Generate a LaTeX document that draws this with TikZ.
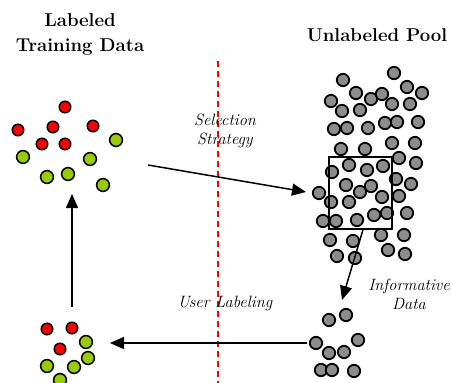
\documentclass[tikz,border=0pt]{standalone}
\usepackage{xcolor}
\usetikzlibrary{arrows.meta}
\definecolor{rouge}{RGB}{255,0,0}
\definecolor{vert}{RGB}{153,204,0}
\definecolor{gris}{RGB}{140,140,140}
\tikzset{
  pt/.style={circle,draw,line width=1.5pt,minimum size=11.5pt,inner sep=0pt},
  ptrouge/.style={pt,fill=rouge,minimum size=11.5pt},
  ptvert/.style={pt,fill=vert,minimum width=12.2pt,minimum height=12.8pt},
  ptgris/.style={pt,fill=gris,line width=1.8pt,minimum size=12.4pt},
  fleche/.style={line width=1.5pt,-{Triangle[length=14pt,width=12pt]}},
  titre/.style={align=center,font=\fontsize{18.6}{25}\selectfont\bfseries},
  etiq/.style={align=center,font=\fontsize{16.4}{19}\selectfont\itshape}
}
\begin{document}
\begin{tikzpicture}[x=1pt,y=-1pt]
\useasboundingbox (0,0) rectangle (451,383);
% titres
\node[titre] (tl) at (80,34) {Labeled\\Training Data};
\node[titre] (tu) at (377,35) {Unlabeled Pool};
% ligne de séparation
\coordinate (d1) at (218,61);
\coordinate (d2) at (218,383);
\draw[rouge,dashed,line width=1.3pt,dash pattern=on 6pt off 4pt] (d1) -- (d2);
% données étiquetées (haut)
\foreach \x/\y [count=\i] in {65/107,18/130,53/127,93/126,42/144,65/144}
  \node[ptrouge] (r\i) at (\x,\y) {};
\foreach \x/\y [count=\i] in {116/140,23/157,90/159,47/177,68/174,103/185}
  \node[ptvert] (v\i) at (\x,\y) {};
% données étiquetées (bas)
\foreach \x/\y [count=\i] in {47/329,72/328,60/349}
  \node[ptrouge] (br\i) at (\x,\y) {};
\foreach \x/\y [count=\i] in {86/342,88/358,47/366,74/367,60/380}
  \node[ptvert] (bv\i) at (\x,\y) {};
% pool
\foreach \x/\y [count=\i] in {343/80,394/73,407/87,422/93,356/93,371/99,382/94,331/101,
  342/111,360/110,392/104,410/104,334/129,347/128,368/128,385/123,397/122,418/122,
  341/149,365/149,392/143,415/143,399/158,416/163,349/165,367/170,383/166,332/172,
  396/179,411/184,346/185,371/186,360/192,319/193,382/197,399/196,331/202,349/202,
  374/215,387/213,407/213,323/221,336/221,357/220,381/235,404/235,330/240,353/241,
  388/250,405/254,337/256,355/258}
  \node[ptgris] (p\i) at (\x,\y) {};
% données informatives
\foreach \x/\y [count=\i] in {329/320,346/315,316/343,329/353,344/352,358/340,321/370,332/370,354/371}
  \node[ptgris] (q\i) at (\x,\y) {};
\node[draw,line width=1.5pt,minimum width=63pt,minimum height=72pt,inner sep=0pt] (sel) at (360.5,193) {};
% flèches
\coordinate (s1) at (148,165);
\coordinate (s2) at (306,192);
\coordinate (i2) at (342,300);
\coordinate (u1) at (307,343);
\coordinate (u2) at (110,343);
\coordinate (l1) at (72,307);
\coordinate (l2) at (72,194);
\draw[fleche] (s1) -- (s2);
\draw[fleche] ([xshift=2.5pt]sel.south) -- (i2);
\draw[fleche] (u1) -- (u2);
\draw[fleche] (l1) -- (l2);
% étiquettes
\node[etiq] (ss) at (225,131) {Selection\\Strategy};
\node[etiq] (ul) at (225,303) {User Labeling};
\node[etiq] (id) at (409,294) {Informative\\Data};
\end{tikzpicture}
\end{document}
